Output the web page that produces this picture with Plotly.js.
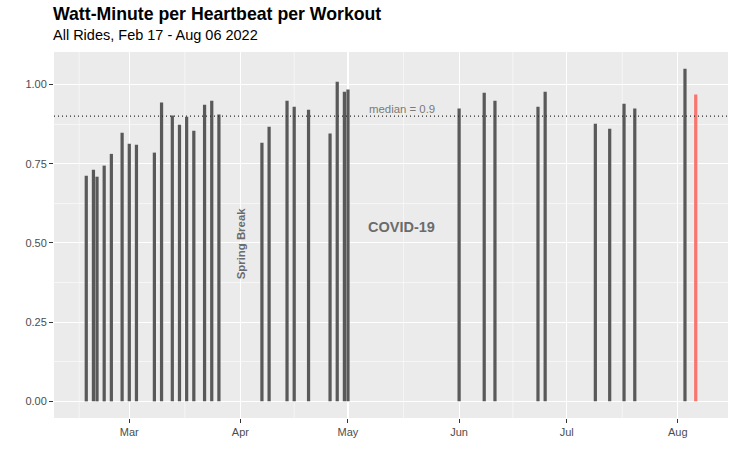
<!DOCTYPE html>
<html>
<head>
<meta charset="utf-8">
<script src="https://cdn.plot.ly/plotly-3.0.1.min.js"></script>
<style>html,body{margin:0;padding:0;background:#fff}#chart{width:736px;height:461px}</style>
</head>
<body>
<div id="chart"></div>
<script>
// ---- data ----
const rideDates = ['2022-02-17','2022-02-19','2022-02-20','2022-02-22','2022-02-24','2022-02-27',
  '2022-03-01','2022-03-03','2022-03-08','2022-03-10','2022-03-13','2022-03-15','2022-03-17',
  '2022-03-19','2022-03-22','2022-03-24','2022-03-26',
  '2022-04-07','2022-04-09','2022-04-14','2022-04-16','2022-04-20','2022-04-26','2022-04-28',
  '2022-04-30','2022-05-01',
  '2022-06-01','2022-06-08','2022-06-11','2022-06-23','2022-06-25',
  '2022-07-09','2022-07-13','2022-07-17','2022-07-20',
  '2022-08-03','2022-08-06'];
const wattMinPerBeat = [0.712,0.731,0.709,0.744,0.781,0.848,
  0.813,0.810,0.785,0.943,0.902,0.873,0.898,
  0.854,0.936,0.949,0.905,
  0.816,0.867,0.949,0.930,0.920,0.845,1.009,
  0.977,0.984,
  0.924,0.974,0.949,0.930,0.977,
  0.876,0.860,0.939,0.924,
  1.050,0.968];
const medianValue = 0.9;
const medianLabel = 'median = 0.9';
const monthTicks = ['2022-03-01','2022-04-01','2022-05-01','2022-06-01','2022-07-01','2022-08-01'];
const monthLabels = ['Mar','Apr','May','Jun','Jul','Aug'];
const yTicks = [0, 0.25, 0.5, 0.75, 1.0];
const yLabels = ['0.00','0.25','0.50','0.75','1.00'];
const notes = [
  {text: 'Spring Break', date: '2022-04-01', value: 0.5},
  {text: 'COVID-19', date: '2022-05-16', value: 0.55}
];
const titleText = 'Watt-Minute per Heartbeat per Workout';
const subtitleText = 'All Rides, Feb 17 - Aug 06 2022';

// ---- styling ----
const FONT = 'Liberation Sans, Arial, Helvetica, sans-serif';
const GREY_BAR = '#595959';
const LATEST = '#F8766D';
const DAY = 86400000;
const minorX = ['2022-02-15','2022-03-16 12:00','2022-04-16','2022-05-16 12:00','2022-06-16','2022-07-16 12:00'];

const colors = rideDates.map((d, i) => i === rideDates.length - 1 ? LATEST : GREY_BAR);

const trace = {
  type: 'bar',
  x: rideDates,
  y: wattMinPerBeat,
  width: rideDates.map(() => 0.9 * DAY),
  marker: {color: colors, line: {width: 0}},
  hoverinfo: 'x+y'
};

const shapes = minorX.map(d => ({
  type: 'line', xref: 'x', yref: 'paper', x0: d, x1: d, y0: 0, y1: 1,
  line: {color: '#ffffff', width: 0.55}, layer: 'below'
}));
shapes.push({
  type: 'line', xref: 'paper', yref: 'y', x0: 0, x1: 1, y0: medianValue, y1: medianValue,
  line: {color: '#2b2b2b', width: 1.1, dash: '1px,3px'}, layer: 'above'
});

const annotations = [
  {xref: 'paper', yref: 'paper', x: 0, y: 1.103, xanchor: 'left', yanchor: 'middle', xshift: -3, showarrow: false,
   text: '<b>' + titleText + '</b>', font: {family: FONT, size: 17.7, color: '#000'}},
  {xref: 'paper', yref: 'paper', x: 0, y: 1.046, xanchor: 'left', yanchor: 'middle', xshift: -3, showarrow: false,
   text: subtitleText, font: {family: FONT, size: 14.5, color: '#000'}},
  {xref: 'x', yref: 'y', x: notes[0].date, y: notes[0].value, textangle: -90, showarrow: false,
   text: '<b>' + notes[0].text + '</b>', font: {family: FONT, size: 11.4, color: '#6b6b6b'}},
  {xref: 'x', yref: 'y', x: notes[1].date, y: notes[1].value, showarrow: false,
   text: '<b>' + notes[1].text + '</b>', font: {family: FONT, size: 14.5, color: '#6b6b6b'}},
  {xref: 'x', yref: 'y', x: notes[1].date, y: medianValue, yanchor: 'bottom', yshift: -1, showarrow: false,
   text: medianLabel, font: {family: FONT, size: 11.4, color: '#7a7a7a'}}
];

const layout = {
  width: 736, height: 461,
  margin: {l: 54, r: 8, t: 52, b: 43, pad: 0},
  paper_bgcolor: '#ffffff',
  plot_bgcolor: '#EBEBEB',
  showlegend: false,
  font: {family: FONT, size: 11, color: '#4D4D4D'},
  xaxis: {
    type: 'date',
    range: ['2022-02-08', '2022-08-15'],
    tickvals: monthTicks, ticktext: monthLabels,
    showgrid: true, gridcolor: '#ffffff', gridwidth: 1.1,
    zeroline: false, showline: false,
    ticks: 'outside', ticklen: 4, tickwidth: 1, tickcolor: '#333333',
    tickfont: {family: FONT, size: 11, color: '#4D4D4D'}
  },
  yaxis: {
    range: [-0.0525, 1.1025],
    tickvals: yTicks, ticktext: yLabels,
    showgrid: true, gridcolor: '#ffffff', gridwidth: 1.1,
    minor: {tickvals: [0.125, 0.375, 0.625, 0.875], showgrid: true, gridcolor: '#ffffff', gridwidth: 0.55, ticks: ''},
    zeroline: false, showline: false,
    ticks: 'outside', ticklen: 4, tickwidth: 1, tickcolor: '#333333',
    tickfont: {family: FONT, size: 11, color: '#4D4D4D'}
  },
  shapes: shapes,
  annotations: annotations
};

Plotly.newPlot('chart', [trace], layout, {displayModeBar: false, staticPlot: true});
</script>
</body>
</html>
